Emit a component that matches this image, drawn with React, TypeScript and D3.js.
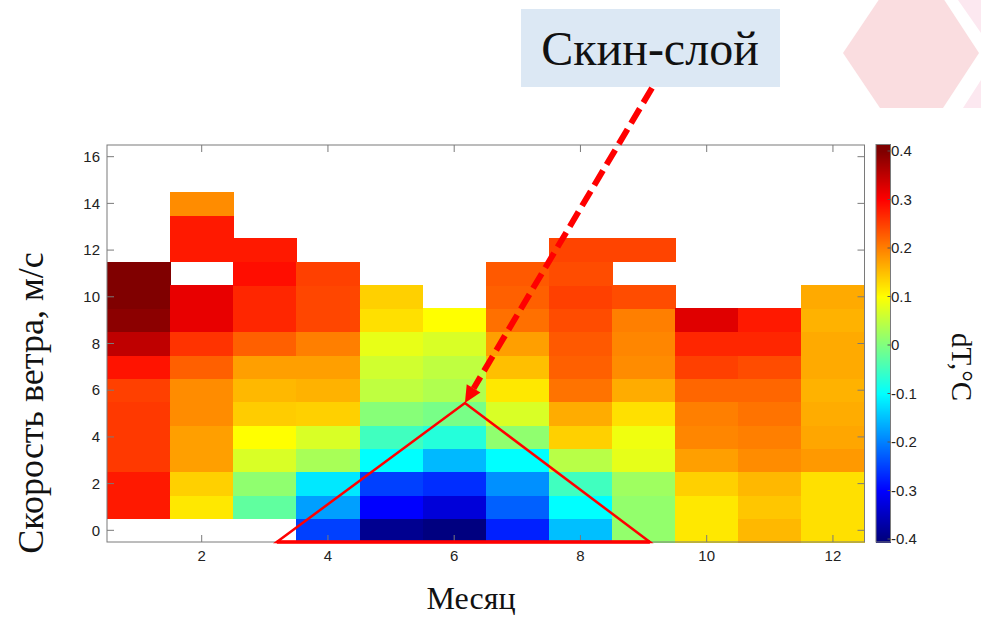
import React from "react";
import * as d3 from "d3";

// ---- data (rows = wind speed 0,1,2,... ; null = no data) ----
const months = [1, 2, 3, 4, 5, 6, 7, 8, 9, 10, 11, 12];
const m1 = [null, 0.28, 0.28, 0.255, 0.255, 0.255, 0.25, 0.285, 0.35, 0.39, 0.4, 0.4];
const m2 = [null, 0.118, 0.137, 0.175, 0.175, 0.19, 0.19, 0.225, 0.26, 0.318, 0.318, null, 0.28, 0.28, 0.19];
const m3 = [null, -0.025, 0.013, 0.07, 0.1, 0.14, 0.156, 0.175, 0.225, 0.27, 0.27, 0.29, 0.28];
const m4 = [-0.25, -0.175, -0.118, 0.032, 0.07, 0.137, 0.16, 0.175, 0.2, 0.245, 0.245, 0.25];
const m5 = [-0.387, -0.3, -0.25, -0.1, -0.05, 0.006, 0.05, 0.063, 0.082, 0.124, 0.137];
const m6 = [-0.4, -0.33, -0.265, -0.155, -0.072, -0.006, 0.038, 0.05, 0.07, 0.1];
const m7 = [-0.275, -0.225, -0.187, -0.1, 0.013, 0.07, 0.118, 0.15, 0.175, 0.212, 0.225, 0.23];
const m8 = [-0.15, -0.1, -0.05, 0.044, 0.137, 0.165, 0.21, 0.225, 0.23, 0.24, 0.25, 0.24, 0.247];
const m9 = [0.015, 0.015, 0.025, 0.08, 0.088, 0.124, 0.165, 0.19, 0.195, 0.2, 0.24, null, 0.247];
const m10 = [0.118, 0.118, 0.137, 0.175, 0.195, 0.2, 0.22, 0.25, 0.27, 0.324];
const m11 = [0.156, 0.145, 0.156, 0.19, 0.2, 0.21, 0.22, 0.24, 0.27, 0.28];
const m12 = [0.124, 0.124, 0.124, 0.18, 0.17, 0.165, 0.16, 0.167, 0.167, 0.16, 0.167];
const monthValues = [m1, m2, m3, m4, m5, m6, m7, m8, m9, m10, m11, m12];

const xTicks = [2, 4, 6, 8, 10, 12];
const yTicks = [0, 2, 4, 6, 8, 10, 12, 14, 16];
const cbTicks = [0.4, 0.3, 0.2, 0.1, 0, -0.1, -0.2, -0.3, -0.4];
const cbLabels = ["0.4", "0.3", "0.2", "0.1", "0", "-0.1", "-0.2", "-0.3", "-0.4"];

// annotation in data coordinates (month, wind speed)
const triangle: [number, number][] = [[3.19, -0.5], [6.17, 5.45], [9.1, -0.5]];

const calloutText = "Скин-слой";
const xLabel = "Месяц";
const yLabel = "Скорость ветра, м/с";
const cbLabel = "dT,°C";

function jet(t: number) {
  const c = (v: number) => Math.max(0, Math.min(1, v));
  return d3
    .rgb(255 * c(1.5 - Math.abs(4 * t - 3)), 255 * c(1.5 - Math.abs(4 * t - 2)), 255 * c(1.5 - Math.abs(4 * t - 1)))
    .formatHex();
}

export default function App() {
  const W = 981, H = 618;
  const L = 107, R = 864.5, T = 145, B = 542;
  const x = d3.scaleLinear().domain([0.5, 12.5]).range([L, R]);
  const y = d3.scaleLinear().domain([-0.5, 16.5]).range([B, T]);
  const color = d3.scaleSequential((t: number) => jet(t)).domain([-0.4, 0.4]).clamp(true);

  const cbX0 = 876, cbX1 = 890.5, cbTop = 144.5, cbBot = 542;
  const cb = d3.scaleLinear().domain([-0.4, 0.4]).range([539, 151]);

  const cells: any[] = [];
  monthValues.forEach((vals, i) => {
    const m = months[i];
    vals.forEach((v, r) => {
      if (v === null) return;
      cells.push({ m, r, v });
    });
  });

  const bands: number[] = d3.range(cbTop, cbBot, 1);

  const tri = triangle.map(([mm, ww]) => [x(mm), y(ww)]);
  const apex = tri[1];
  const start = [652, 88];
  const ang = Math.atan2(apex[1] - start[1], apex[0] - start[0]);
  const headLen = 17, headW = 8;
  const bx = apex[0] - headLen * Math.cos(ang);
  const by = apex[1] - headLen * Math.sin(ang);
  const px = -Math.sin(ang), py = Math.cos(ang);
  const head = `${apex[0]},${apex[1]} ${bx + headW * px},${by + headW * py} ${bx - headW * px},${by - headW * py}`;

  const sans = "'Liberation Sans', Arial, sans-serif";
  const serif = "'Liberation Serif', 'Times New Roman', serif";

  return (
    <svg width={W} height={H} style={{ position: "absolute", left: 0, top: 0, background: "#fff" }}>
      {/* decorative hexagons */}
      <polygon points="843,53 880,-2 943,-2 979,53 943,108 880,108" fill="#fadde0" />
      <polygon points="958,0 981,0 981,33" fill="#fce8f0" />
      <polygon points="963,108 981,108 981,80" fill="#fce8f0" />

      {/* heatmap cells */}
      <g shapeRendering="crispEdges">
        {cells.map((c, i) => (
          <rect
            key={i}
            x={x(c.m - 0.5)}
            y={y(c.r + 0.5)}
            width={x(c.m + 0.5) - x(c.m - 0.5) + 0.5}
            height={y(c.r - 0.5) - y(c.r + 0.5) + 0.5}
            fill={color(c.v)}
          />
        ))}
      </g>

      {/* axes box */}
      <rect x={L} y={T} width={R - L} height={B - T} fill="none" stroke="#7a7a7a" strokeWidth={1} />
      {xTicks.map((t) => (
        <g key={"xt" + t}>
          <line x1={x(t)} x2={x(t)} y1={B} y2={B - 7} stroke="#7a7a7a" />
          <line x1={x(t)} x2={x(t)} y1={T} y2={T + 7} stroke="#7a7a7a" />
          <text x={x(t)} y={561} textAnchor="middle" fontFamily={sans} fontSize={15} fill="#222">
            {t}
          </text>
        </g>
      ))}
      {yTicks.map((t) => (
        <g key={"yt" + t}>
          <line x1={L} x2={L + 7} y1={y(t)} y2={y(t)} stroke="#7a7a7a" />
          <line x1={R} x2={R - 7} y1={y(t)} y2={y(t)} stroke="#7a7a7a" />
          <text x={100} y={y(t)} dy="0.35em" textAnchor="end" fontFamily={sans} fontSize={15} fill="#222">
            {t}
          </text>
        </g>
      ))}

      {/* colorbar */}
      <g shapeRendering="crispEdges">
        {bands.map((b) => (
          <rect key={b} x={cbX0} y={b} width={cbX1 - cbX0} height={1.2} fill={color(cb.invert(b + 0.5))} />
        ))}
      </g>
      <rect x={cbX0} y={cbTop} width={cbX1 - cbX0} height={cbBot - cbTop} fill="none" stroke="#7a7a7a" />
      {cbTicks.map((t, i) => (
        <g key={"cb" + i}>
          <line x1={cbX1} x2={cbX1 - 3} y1={cb(t)} y2={cb(t)} stroke="#555" />
          <text x={cbX1 + 0.5} y={cb(t)} dy="0.35em" fontFamily={sans} fontSize={15} fill="#222">
            {cbLabels[i]}
          </text>
        </g>
      ))}

      {/* labels */}
      <text x={471} y={609} textAnchor="middle" fontFamily={serif} fontSize={32} fill="#111">
        {xLabel}
      </text>
      <text
        transform="translate(43,403) rotate(-90)"
        textAnchor="middle"
        fontFamily={serif}
        fontSize={36}
        fill="#111"
      >
        {yLabel}
      </text>
      <text transform="translate(952,367) rotate(90)" textAnchor="middle" fontFamily={serif} fontSize={29} fill="#111">
        {cbLabel}
      </text>

      {/* callout */}
      <rect x={521} y={9} width={259} height={78} fill="#dce8f4" />
      <text x={650} y={65} textAnchor="middle" fontFamily={serif} fontSize={48} fill="#111">
        {calloutText}
      </text>

      {/* triangle */}
      <polygon points={tri.map((p) => p.join(",")).join(" ")} fill="none" stroke="#ff0000" strokeWidth={2.5} strokeLinejoin="miter" />
      <line x1={tri[0][0]} x2={tri[2][0]} y1={tri[0][1]} y2={tri[2][1]} stroke="#ff0000" strokeWidth={3.5} />

      {/* dashed arrow */}
      <line
        x1={start[0]}
        y1={start[1]}
        x2={bx}
        y2={by}
        stroke="#ff0000"
        strokeWidth={6}
        strokeDasharray="17 7"
      />
      <polygon points={head} fill="#ff0000" />
    </svg>
  );
}
